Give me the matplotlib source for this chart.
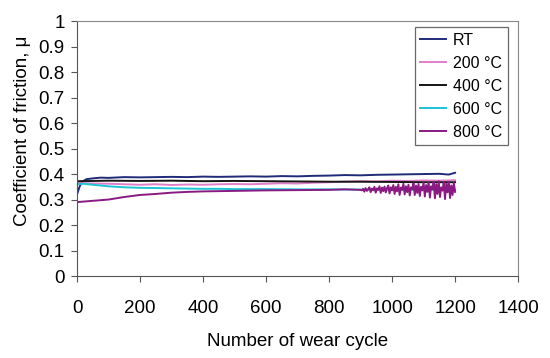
import matplotlib
matplotlib.use('Agg')
import matplotlib.pyplot as plt
from matplotlib.ticker import FormatStrFormatter

plt.rcParams['font.family'] = ['Liberation Sans', 'DejaVu Sans']

# room temperature
rt_x = [0, 8, 16, 30, 50, 75, 100, 150, 200, 250, 300, 350, 400, 450, 500, 550,
        600, 650, 700, 750, 800, 850, 900, 950, 1000, 1050, 1100, 1150, 1180, 1200]
rt_y = [0.32, 0.35, 0.37, 0.38, 0.383, 0.386, 0.385, 0.388, 0.387, 0.388, 0.389, 0.388,
        0.390, 0.389, 0.390, 0.391, 0.390, 0.392, 0.391, 0.393, 0.394, 0.396, 0.395,
        0.397, 0.398, 0.399, 0.400, 0.401, 0.398, 0.405]

# 200 C
t200_x = [0, 50, 100, 150, 200, 250, 300, 350, 400, 450, 500, 550, 600, 650, 700,
          750, 800, 850, 900, 950, 1000, 1050, 1100, 1150, 1200]
t200_y = [0.365, 0.363, 0.362, 0.36, 0.358, 0.36, 0.357, 0.359, 0.358, 0.36, 0.361,
          0.36, 0.362, 0.364, 0.363, 0.366, 0.368, 0.37, 0.372, 0.371, 0.374, 0.373,
          0.375, 0.374, 0.376]

# 400 C
t400_x = [0, 50, 100, 200, 300, 400, 500, 600, 700, 800, 900, 1000, 1100, 1200]
t400_y = [0.372, 0.373, 0.374, 0.373, 0.374, 0.372, 0.373, 0.372, 0.371, 0.370,
          0.370, 0.369, 0.368, 0.368]

# 600 C
t600_x = [0, 20, 50, 100, 150, 200, 250, 300, 350, 400, 450, 500, 600, 700, 800,
          900, 1000, 1100, 1200]
t600_y = [0.36, 0.362, 0.358, 0.352, 0.348, 0.346, 0.345, 0.344, 0.343, 0.342, 0.342,
          0.341, 0.341, 0.340, 0.340, 0.339, 0.339, 0.338, 0.338]

# 800 C: smooth rise, then noisy after ~900 cycles
t800_x = ([0, 50, 100, 150, 200, 250, 300, 350, 400, 500, 600, 700, 800, 850, 900]
          + list(range(904, 1201, 4)))
t800_y = [0.29, 0.295, 0.30, 0.31, 0.318, 0.322, 0.327, 0.33, 0.332, 0.334, 0.336,
          0.337, 0.338, 0.34, 0.338,
          0.336, 0.342, 0.331, 0.345, 0.334, 0.340, 0.348, 0.329, 0.343, 0.336,
          0.350, 0.327, 0.344, 0.338, 0.352, 0.326, 0.347, 0.333, 0.351, 0.328,
          0.345, 0.355, 0.324, 0.348, 0.336,
          0.357, 0.322, 0.350, 0.332, 0.360, 0.318, 0.347, 0.338, 0.362, 0.320,
          0.352, 0.329, 0.358, 0.316, 0.348, 0.340, 0.364, 0.318, 0.355, 0.326,
          0.361, 0.314, 0.350, 0.336, 0.366,
          0.312, 0.357, 0.330, 0.368, 0.308, 0.352, 0.340, 0.370, 0.305, 0.360,
          0.322, 0.372, 0.310, 0.348, 0.335, 0.368, 0.302, 0.362, 0.328, 0.370,
          0.306, 0.355, 0.318, 0.365, 0.330]

series = [
    (rt_x, rt_y, 'RT', '#1f2a78'),
    (t200_x, t200_y, '200 \u00b0C', '#e07fc8'),
    (t400_x, t400_y, '400 \u00b0C', '#151515'),
    (t600_x, t600_y, '600 \u00b0C', '#1cc4d6'),
    (t800_x, t800_y, '800 \u00b0C', '#8a1a82'),
]

fig = plt.figure(figsize=(5.5, 3.58), dpi=100)
ax = fig.add_axes([0.14, 0.229, 0.802, 0.712])

for x, y, label, color in series:
    ax.plot(x, y, color=color, lw=1.4, label=label)

ax.set_xlim(0, 1400)
ax.set_ylim(0, 1)
ax.set_xticks(range(0, 1401, 200))
ax.set_yticks([i / 10 for i in range(11)])
ax.yaxis.set_major_formatter(FormatStrFormatter('%g'))
ax.tick_params(direction='out', length=4, width=0.8, colors='#555555',
               labelcolor='black', labelsize=13.5)
ax.tick_params(axis='x', pad=13)
ax.tick_params(axis='y', pad=5)

for side in ['top', 'right']:
    ax.spines[side].set_color('#888888')
for side in ['left', 'bottom']:
    ax.spines[side].set_color('#555555')

ax.set_xlabel('Number of wear cycle', fontsize=13.5, labelpad=12)
ax.set_ylabel('Coefficient of friction, \u03bc', fontsize=13.5)
ax.yaxis.set_label_coords(-0.104, 0.57)

leg = ax.legend(loc='upper right', bbox_to_anchor=(0.977, 0.976), borderaxespad=0,
                fontsize=11.5, fancybox=False, handlelength=1.6, labelspacing=0.5,
                handletextpad=0.45, borderpad=0.35)
leg.get_frame().set_edgecolor('#444444')
leg.get_frame().set_linewidth(0.9)

fig.savefig('out.png', dpi=100)
